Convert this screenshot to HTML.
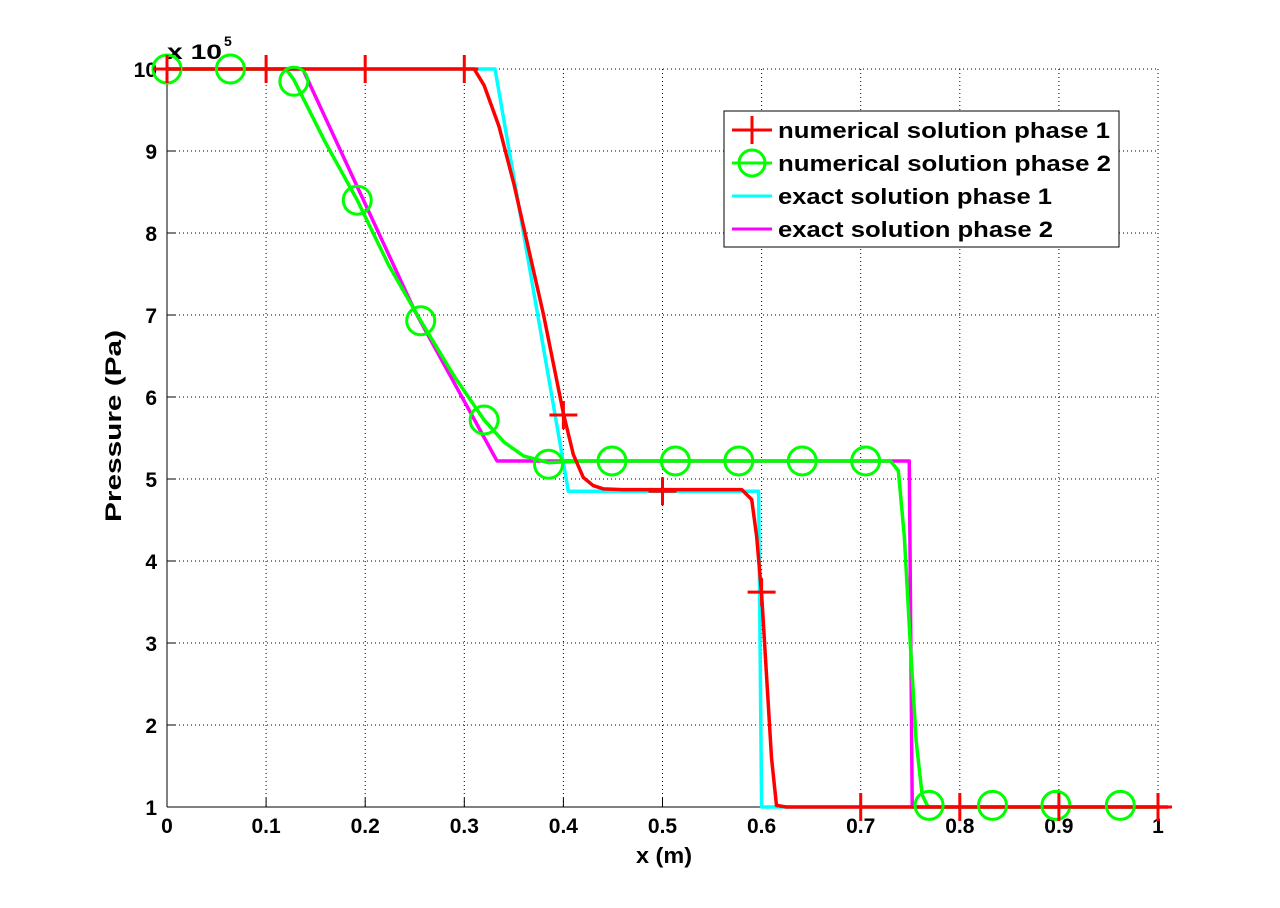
<!DOCTYPE html>
<html><head><meta charset="utf-8"><style>
html,body{margin:0;padding:0;background:#fff;}
svg{display:block;font-family:"Liberation Sans",Arial,sans-serif;font-weight:bold;}
</style></head><body>
<svg id="chart" width="1280" height="908" viewBox="0 0 1280 908" xmlns="http://www.w3.org/2000/svg">
<g id="grid"></g>
<g id="axes"></g>
<g id="series"></g>
<g id="legend">
<rect x="724" y="111" width="395" height="136" fill="#fff" stroke="#000" stroke-width="1"/>
<line x1="732" y1="130" x2="772" y2="130" stroke="#f00" stroke-width="3"/>
<line x1="752" y1="116" x2="752" y2="144" stroke="#f00" stroke-width="3"/>
<text x="778" y="138" font-size="22" textLength="332" lengthAdjust="spacingAndGlyphs">numerical solution phase 1</text>
<line x1="732" y1="163" x2="772" y2="163" stroke="#0f0" stroke-width="3"/>
<circle cx="752" cy="163" r="13" fill="none" stroke="#0f0" stroke-width="3"/>
<text x="778" y="171" font-size="22" textLength="333" lengthAdjust="spacingAndGlyphs">numerical solution phase 2</text>
<line x1="732" y1="196" x2="772" y2="196" stroke="#0ff" stroke-width="3"/>
<text x="778" y="204" font-size="22" textLength="274" lengthAdjust="spacingAndGlyphs">exact solution phase 1</text>
<line x1="732" y1="229" x2="772" y2="229" stroke="#f0f" stroke-width="3"/>
<text x="778" y="237" font-size="22" textLength="275" lengthAdjust="spacingAndGlyphs">exact solution phase 2</text>
</g>
</svg>
<script>
const xTicks=[0,0.1,0.2,0.3,0.4,0.5,0.6,0.7,0.8,0.9,1];
const xTickLabels=["0","0.1","0.2","0.3","0.4","0.5","0.6","0.7","0.8","0.9","1"];
const yTicks=[1,2,3,4,5,6,7,8,9,10];
const yTickLabels=["1","2","3","4","5","6","7","8","9","10"];
const exact1X=[0,0.331,0.405,0.597,0.600,1];
const exact1Y=[10,10,4.85,4.85,1,1];
const exact2X=[0,0.137,0.25,0.333,0.749,0.752,1];
const exact2Y=[10,10,7.05,5.22,5.22,1,1];
const num1X=[0,0.31,0.32,0.335,0.35,0.365,0.38,0.39,0.40,0.41,0.42,0.43,0.44,0.46,0.58,0.59,0.595,0.60,0.605,0.61,0.615,0.625,1.01];
const num1Y=[10,10,9.8,9.3,8.6,7.8,7.0,6.4,5.8,5.3,5.02,4.92,4.88,4.87,4.87,4.75,4.3,3.6,2.6,1.6,1.02,1,1];
const num2X=[0,0.12,0.128,0.16,0.192,0.224,0.256,0.29,0.32,0.34,0.36,0.385,0.42,0.73,0.738,0.744,0.75,0.756,0.762,0.768,1];
const num2Y=[10,10,9.87,9.1,8.4,7.6,6.93,6.25,5.72,5.45,5.28,5.2,5.22,5.22,5.1,4.3,3.0,1.8,1.15,1,1];
const mark1X=[0,0.1,0.2,0.3,0.4,0.5,0.6,0.7,0.8,0.9,1];
const mark1Y=[10,10,10,10,5.78,4.85,3.62,1,1,1,1];
const mark2X=[0,0.064,0.128,0.192,0.256,0.32,0.385,0.449,0.513,0.577,0.641,0.705,0.769,0.833,0.897,0.962];
const mark2Y=[10,10,9.85,8.4,6.93,5.72,5.18,5.22,5.22,5.22,5.22,5.22,1.02,1.02,1.02,1.02];

const X0=167,X1=1158,Y0=807,Y1=69;
const sx=v=>X0+(X1-X0)*v;
const sy=v=>Y0-(Y0-Y1)*(v-1)/9;
const NS="http://www.w3.org/2000/svg";
function mk(tag,attrs,parent){const e=document.createElementNS(NS,tag);for(const k in attrs)e.setAttribute(k,attrs[k]);parent.appendChild(e);return e;}
const grid=document.getElementById('grid'),axes=document.getElementById('axes'),series=document.getElementById('series');
xTicks.forEach((t,i)=>{
  if(i>0){const g=mk('line',{x1:sx(t),x2:sx(t),y1:Y1,y2:Y0,stroke:'#000','stroke-width':1,'stroke-dasharray':'1 3'},grid);
  
  }
  mk('line',{x1:sx(t),x2:sx(t),y1:Y0,y2:Y0-9,stroke:'#000'},axes);
  const tx=mk('text',{x:sx(t),y:Y0+26,'font-size':21,'text-anchor':'middle'},axes);tx.textContent=xTickLabels[i];
  
  
});
yTicks.forEach((t,i)=>{
  if(i>0){const g=mk('line',{x1:X0,x2:X1,y1:sy(t),y2:sy(t),stroke:'#000','stroke-width':1,'stroke-dasharray':'1 3'},grid);
  
  }
  mk('line',{x1:X0,x2:X0+9,y1:sy(t),y2:sy(t),stroke:'#000'},axes);
  const tx=mk('text',{x:X0-10,y:sy(t)+8,'font-size':21,'text-anchor':'end'},axes);tx.textContent=yTickLabels[i];
  
  
});
mk('line',{x1:X0,x2:X0,y1:Y1,y2:Y0,stroke:'#000'},axes);
mk('line',{x1:X0,x2:X1,y1:Y0,y2:Y0,stroke:'#000'},axes);
let t=mk('text',{x:167,y:59,'font-size':21,textLength:55,lengthAdjust:'spacingAndGlyphs'},axes);t.textContent='x 10';


t=mk('text',{x:224,y:46,'font-size':14},axes);t.textContent='5';
t=mk('text',{x:664,y:863,'font-size':22,'text-anchor':'middle',textLength:56,lengthAdjust:'spacingAndGlyphs'},axes);t.textContent='x (m)';


t=mk('text',{x:0,y:0,'font-size':22,'text-anchor':'middle',textLength:192,lengthAdjust:'spacingAndGlyphs',transform:'translate(121,426) rotate(-90)'},axes);t.textContent='Pressure (Pa)';



function line(xs,ys,color,name){
  const p=mk('polyline',{points:xs.map((x,i)=>sx(x)+','+sy(ys[i])).join(' '),fill:'none',stroke:color,'stroke-width':3.5,'stroke-linejoin':'round'},series);
  
  
}
line(exact2X,exact2Y,'#f0f','exact-solution-phase-2');
line(exact1X,exact1Y,'#0ff','exact-solution-phase-1');
line(num2X,num2Y,'#0f0','numerical-solution-phase-2');
line(num1X,num1Y,'#f00','numerical-solution-phase-1');
mark2X.forEach((x,i)=>{
  const c=mk('circle',{cx:sx(x),cy:sy(mark2Y[i]),r:14,fill:'none',stroke:'#0f0','stroke-width':3},series);
  
  
});
mark1X.forEach((x,i)=>{
  const cx=sx(x),cy=sy(mark1Y[i]);
  const g=mk('path',{d:`M${cx-14},${cy}H${cx+14}M${cx},${cy-14}V${cy+14}`,stroke:'#f00','stroke-width':3,fill:'none'},series);
  
  
});
</script>
</body></html>
